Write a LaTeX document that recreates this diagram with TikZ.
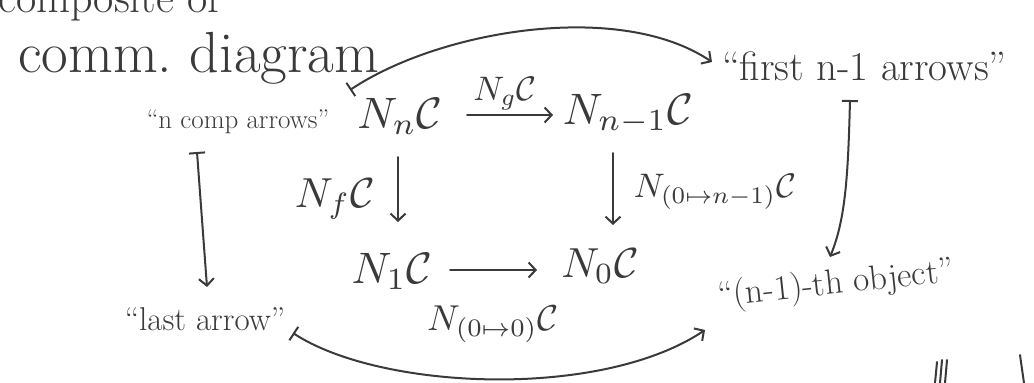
\documentclass[tikz,border=0pt]{standalone}
\usepackage{amsmath}
\usepackage{graphicx}
\usetikzlibrary{arrows.meta}
\definecolor{ink}{HTML}{3A3A3A}
\newcommand{\bigmath}[2]{\scalebox{#1}{$#2$}}
\tikzset{
  stroke/.style={draw=ink, line width=2pt, line cap=round, line join=round},
  arr/.style={stroke, -{Straight Barb[length=7pt,width=15pt,line width=2pt]}},
  maparr/.style={stroke, {Bar[width=16pt,line width=2pt]}-{Straight Barb[length=7pt,width=15pt,line width=2pt]}},
  obj/.style={inner sep=0pt, text=ink, anchor=base},
  lab/.style={inner sep=0pt, text=ink, anchor=base},
  note/.style={inner sep=0pt, text=ink},
}
\begin{document}
\begin{tikzpicture}[x=1pt,y=-1pt]
\useasboundingbox (0,0) rectangle (1034,383);
\fill[white] (0,0) rectangle (1034,383);

% free text
\node[note, anchor=base west, font=\fontsize{44}{48}\selectfont] (comp) at (-2,12) {composite of};
\node[note, anchor=base west, font=\fontsize{58}{62}\selectfont] (comm) at (18,72) {comm.\ diagram};
\node[note, anchor=base, font=\fontsize{27}{30}\selectfont] (ncomp) at (238,128) {“n comp arrows”};
\node[note, anchor=base west, font=\fontsize{41}{44}\selectfont] (first) at (722,80) {“first n-1 arrows”};
\node[note, anchor=base, font=\fontsize{33}{36}\selectfont] (last) at (205,330) {“last arrow”};
\node[note, rotate=6, font=\fontsize{35}{38}\selectfont] (nth) at (836,285) {“(n-1)-th object”};

% objects
\node[obj] (Nn)  at (400,128) {\bigmath{4.4}{N_n\mathcal{C}}};
\node[obj] (Nn1) at (628,124) {\bigmath{4.4}{N_{n-1}\mathcal{C}}};
\node[obj] (N1)  at (392,283) {\bigmath{4.4}{N_1\mathcal{C}}};
\node[obj] (N0)  at (600,277) {\bigmath{4.2}{N_0\mathcal{C}}};

% arrow labels
\node[lab] (lg) at (505,100) {\bigmath{3.4}{N_g\mathcal{C}}};
\node[lab] (lf) at (335,207) {\bigmath{4.2}{N_f\mathcal{C}}};
\node[lab] (lr) at (715,197) {\bigmath{3.4}{N_{(0\mapsto n-1)}\mathcal{C}}};
\node[lab] (lb) at (493,330) {\bigmath{3.6}{N_{(0\mapsto 0)}\mathcal{C}}};

% square
\draw[arr] ([shift={(67,-13)}]Nn.base) -- ([shift={(-75,-9)}]Nn1.base);
\draw[arr] ([shift={(-2,29)}]Nn.base) -- ([shift={(6,-61)}]N1.base);
\draw[arr] ([shift={(-15,29)}]Nn1.base) -- ([shift={(13,-52)}]N0.base);
\draw[arr] ([shift={(58,-13)}]N1.base) -- ([shift={(-63,-7)}]N0.base);

% outer maps-to arrows
\draw[maparr] ([shift={(-50,-38)}]Nn.base) .. controls (440,30) and (620,0) .. ([shift={(-10,-18)}]first.base west);
\draw[maparr] ([shift={(-41,24)}]ncomp.base) -- ([shift={(2,-43)}]last.base);
\draw[maparr] ([shift={(128,20)}]first.base west) .. controls (848,180) and (845,220) .. ([shift={(-6,-28)}]nth.center);
\draw[maparr] ([shift={(88,3)}]last.base) .. controls (380,390) and (600,400) .. ([shift={(-131,45)}]nth.center);

% cut-off strokes at the lower right
\draw[stroke] (937,362) -- (935,383);
\draw[stroke] (942,360) -- (940,383);
\draw[stroke] (947,360) -- (945,383);
\draw[stroke] (1020,355) -- (1024,383);
\end{tikzpicture}
\end{document}
